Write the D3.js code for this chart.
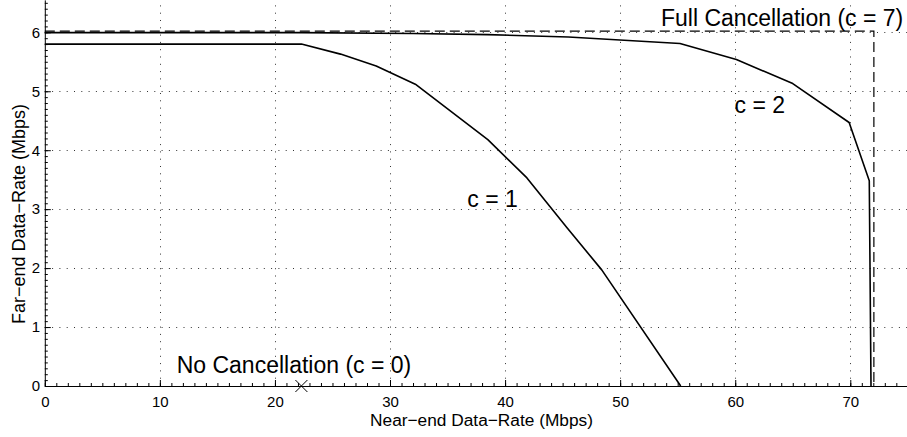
<!DOCTYPE html>
<html>
<head>
<meta charset="utf-8">
<script src="https://cdn.jsdelivr.net/npm/d3@7"></script>
<style>
  html, body { margin: 0; padding: 0; background: #fff; }
  svg { display: block; }
  text { font-family: "Liberation Sans", Arial, Helvetica, sans-serif; fill: #000; }
</style>
</head>
<body>
<svg id="chart" width="907" height="437"></svg>
<script>
// Rate region: near-end vs far-end data-rate for different cancellation levels
const c1Near = [0, 22.3, 25.7, 28.8, 32.2, 38.5, 41.9, 45.4, 48.4, 55.26];
const c1Far  = [5.8, 5.8, 5.63, 5.43, 5.12, 4.18, 3.53, 2.68, 1.97, 0];

const c2Near = [0, 22.3, 32, 38.5, 45.5, 55.2, 60.1, 65.0, 69.9, 71.65, 71.8];
const c2Far  = [5.995, 5.995, 5.98, 5.96, 5.92, 5.81, 5.54, 5.13, 4.47, 3.48, 0];

const fullNear = [0, 72.05, 72.05];
const fullFar  = [6.02, 6.02, 0];

const noCancelNear = [22.3];
const noCancelFar  = [0];

const xTicks = [0, 10, 20, 30, 40, 50, 60, 70];
const yTicks = [0, 1, 2, 3, 4, 5, 6];

const labels = [
  { text: "Full Cancellation (c = 7)", x: 53.55, y: 6.1 },
  { text: "No Cancellation (c = 0)",   x: 11.46, y: 0.226 },
  { text: "c = 1",                     x: 36.72, y: 3.04 },
  { text: "c = 2",                     x: 59.94, y: 4.63 }
];

const svg = d3.select("#chart");
const W = 907, H = 437;
svg.append("rect").attr("width", W).attr("height", H).attr("fill", "#fff");

const x0 = 44.8, pxPerX = 11.507;
const y0 = 386, pxPerY = 58.95;
const xMax = 76, yMax = 6.55;
const x = d3.scaleLinear().domain([0, xMax]).range([x0, x0 + xMax * pxPerX]);
const y = d3.scaleLinear().domain([0, yMax]).range([y0, y0 - yMax * pxPerY]);

// dotted grid
const grid = svg.append("g").attr("stroke", "#333").attr("stroke-width", 1)
  .attr("stroke-dasharray", "1,6.3");
grid.selectAll("line.gx").data(xTicks.filter(d => d > 0)).join("line")
  .attr("x1", d => Math.round(x(d)) + 0.5).attr("x2", d => Math.round(x(d)) + 0.5)
  .attr("y1", y(0)).attr("y2", y(yMax));
grid.selectAll("line.gy").data(yTicks.filter(d => d > 0)).join("line")
  .attr("y1", d => Math.round(y(d)) + 0.5).attr("y2", d => Math.round(y(d)) + 0.5)
  .attr("x1", x(0)).attr("x2", x(xMax));

// minor ticks
const minorX = d3.range(0, xMax + 0.001, 1);
const minorY = d3.range(0, yMax + 0.001, 0.1);
svg.append("g").attr("transform", `translate(0,${y0})`)
  .call(d3.axisBottom(x).tickValues(minorX).tickSize(-3).tickSizeOuter(0).tickFormat(""))
  .call(g => g.select(".domain").remove());
svg.append("g").attr("transform", `translate(${x0},0)`)
  .call(d3.axisLeft(y).tickValues(minorY).tickSize(-3).tickSizeOuter(0).tickFormat(""))
  .call(g => g.select(".domain").remove());

// major axes
const xAxis = svg.append("g").attr("transform", `translate(0,${y0})`)
  .call(d3.axisBottom(x).tickValues(xTicks).tickSize(-6).tickSizeOuter(0).tickPadding(10.3).tickFormat(d3.format("d")));
const yAxis = svg.append("g").attr("transform", `translate(${x0},0)`)
  .call(d3.axisLeft(y).tickValues(yTicks).tickSize(-6).tickSizeOuter(0).tickPadding(4.8).tickFormat(d3.format("d")));
[xAxis, yAxis].forEach(a => {
  a.selectAll("text").attr("font-size", 15).attr("font-family", null);
  a.attr("font-family", null);
  a.selectAll("path, line").attr("stroke", "#000");
});

// axis titles
svg.append("text").attr("x", 481.5).attr("y", 425.7).attr("text-anchor", "middle")
  .attr("font-size", 17.3).text("Near\u2212end Data\u2212Rate (Mbps)");
svg.append("text").attr("transform", "translate(25,214) rotate(-90)").attr("text-anchor", "middle")
  .attr("font-size", 18).text("Far\u2212end Data\u2212Rate (Mbps)");

const line = d3.line().x(d => x(d[0])).y(d => y(d[1]));

// full cancellation bound (dashed)
svg.append("path").datum(d3.zip(fullNear, fullFar))
  .attr("d", line).attr("fill", "none").attr("stroke", "#000").attr("stroke-width", 1.2)
  .attr("stroke-dasharray", "10,5");

// c = 1 and c = 2 curves
[[c1Near, c1Far], [c2Near, c2Far]].forEach(([n, f]) => {
  svg.append("path").datum(d3.zip(n, f))
    .attr("d", line).attr("fill", "none").attr("stroke", "#000")
    .attr("stroke-width", 1.6).attr("stroke-linejoin", "round");
});

// no-cancellation operating point
const s = 6;
svg.selectAll("path.pt").data(d3.zip(noCancelNear, noCancelFar)).join("path")
  .attr("d", d => `M${x(d[0]) - s},${y(d[1]) - s}L${x(d[0]) + s},${y(d[1]) + s}M${x(d[0]) - s},${y(d[1]) + s}L${x(d[0]) + s},${y(d[1]) - s}`)
  .attr("stroke", "#000").attr("stroke-width", 1).attr("fill", "none");

// annotations
svg.selectAll("text.lbl").data(labels).join("text")
  .attr("x", d => x(d.x)).attr("y", d => y(d.y))
  .attr("font-size", 23).text(d => d.text);
</script>
</body>
</html>
